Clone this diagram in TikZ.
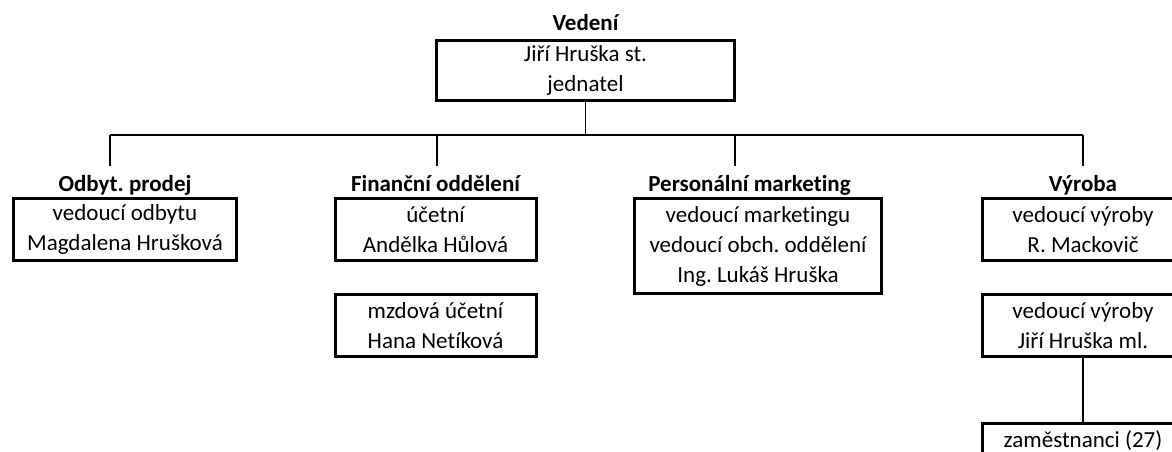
\documentclass[tikz,border=0pt]{standalone}
\usepackage{fontspec}
\setmainfont[Ligatures={NoCommon}]{Carlito}
\usetikzlibrary{positioning,calc}
\frenchspacing
\tikzset{
  basic/.style = {draw, line width=3pt, inner sep=0pt, align=center,
                  font=\fontsize{23}{30}\selectfont},
  box/.style   = {basic, minimum width=201pt, minimum height=62pt},
  head/.style  = {inner sep=0pt, anchor=base, font=\fontsize{23}{30}\selectfont\bfseries},
  link/.style  = {line width=1.8pt}
}

\begin{document}
\begin{tikzpicture}[x=1pt,y=-1pt]
\useasboundingbox (0,0) rectangle (1172,452);
\node[box, minimum width=298pt, minimum height=60pt] (top) at (585.5,70.5) {Jiří Hruška st.\\jednatel};
\node[head] (h0) at (585.5,31) {Vedení};

\node[box, minimum width=223pt] (odb) at (125,229.5) {vedoucí odbytu\\Magdalena Hrušková};
\node[box] (fin1) at (435.5,229.5) {účetní\\Andělka Hůlová};
\node[box, below=31pt of fin1] (fin2) {mzdová účetní\\Hana Netíková};
\node[box, minimum width=247pt, minimum height=95pt] (per) at (758,246) {vedoucí marketingu\\vedoucí obch. oddělení\\Ing. Lukáš Hruška};
\node[box] (vyr1) at (1083,229.5) {vedoucí výroby\\R. Mackovič};
\node[box, below=31pt of vyr1] (vyr2) {vedoucí výroby\\Jiří Hruška ml.};
\node[box, minimum height=35pt, below=64pt of vyr2] (vyr3) {zaměstnanci (27)};

\node[head] (h1) at (125,191.5) {Odbyt. prodej};
\node[head] (h2) at (435.5,191.5) {Finanční oddělení};
\node[head] (h3) at (749.5,191.5) {Personální marketing};
\node[head] (h4) at (1083,191.5) {Výroba};

\coordinate (odbIn) at (110,166);
\coordinate (finIn) at (437,166);
\coordinate (perIn) at (735,166);
\coordinate (vyrIn) at (1083,166);
\coordinate (bus) at ($(top.south)+(0,33)$);
\draw[link] (top.south) -- (bus);
\draw[link] (odbIn |- bus) -- (vyrIn |- bus);
\foreach \c in {odbIn,finIn,perIn,vyrIn}
  \draw[link] (\c |- bus) -- (\c);
\draw[link] (vyr2) -- (vyr3);
\end{tikzpicture}
\end{document}
